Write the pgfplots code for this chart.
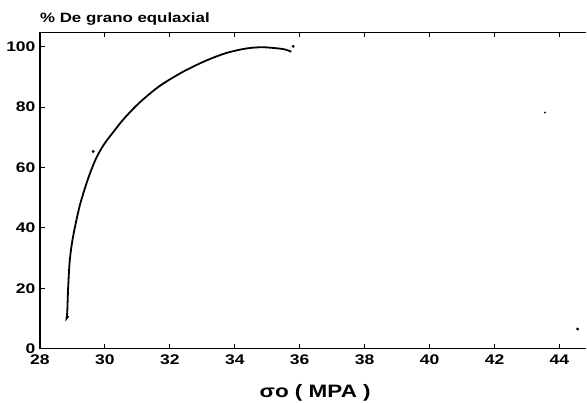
\documentclass[border=0pt]{standalone}
\usepackage{fontspec}
\setmainfont[FakeStretch=1.25]{Liberation Sans}
\usepackage{pgfplots}
\pgfplotsset{compat=1.18}
\usetikzlibrary{calc}
\begin{document}
\begin{tikzpicture}
\begin{axis}[
  scale only axis,
  width=547bp, height=316.5bp,
  xmin=28, xmax=44.83, ymin=0, ymax=104.7,
  axis x line=box, axis y line=left,
  axis line style={line width=1.2bp, -},
  xtick={28,30,...,44}, ytick={0,20,...,100},
  tick align=inside, major tick length=5bp,
  tick style={line width=0.9bp, black},
  /pgf/number format/assume math mode=true,
  ticklabel style={font=\fontsize{14bp}{16bp}\selectfont\bfseries},
  xticklabel style={yshift=-3bp},
  yticklabel style={xshift=-1bp},
  clip=false,
]
\addplot[black, line width=1.8bp, smooth, tension=0.5] coordinates {
(28.87,10.8) (28.82,10.0) (28.84,12) (28.87,20.6) (28.92,29.4) (29.02,37.1)
(29.22,47.1) (29.47,55.9) (29.72,62.8) (29.97,67.6) (30.25,71.6) (30.6,76.3)
(31.08,81.6) (31.69,87.0) (32.41,91.7) (33.1,95.3) (33.74,97.9)
(34.36,99.4) (34.87,99.8) (35.49,99.2) (35.74,98.3)
};
\addplot[only marks, mark=*, mark size=1.3bp, black] coordinates {
(29.64,65.3) (35.8,100.1) (44.56,6.5)
};
\addplot[only marks, mark=*, mark size=0.7bp, black] coordinates {
(43.55,78.2)
};
\end{axis}
\node[anchor=base west, font=\fontsize{13.5bp}{15bp}\selectfont\bfseries, inner sep=0pt]
  at ($(current axis.north west)+(0bp,10bp)$) {\% De grano equlaxial};
\node[anchor=base, font=\fontsize{18bp}{20bp}\selectfont\bfseries, inner sep=0pt]
  at ($(current axis.south)+(2bp,-49bp)$) {σo ( MPA )};
\path ($(current axis.south west)+(-40bp,-54bp)$) rectangle ($(current axis.north east)+(0bp,32.5bp)$);
\end{tikzpicture}
\end{document}
